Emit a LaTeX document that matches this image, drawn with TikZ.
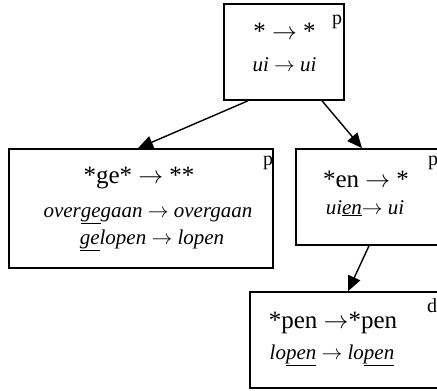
\documentclass[tikz,border=0pt]{standalone}
\usepackage{fontspec}
\setmainfont{Liberation Serif}
\usetikzlibrary{arrows.meta}
\begin{document}
\begin{tikzpicture}[x=1pt,y=-1pt,
    rulebox/.style={draw,line width=1.6pt,inner sep=0pt},
    head/.style={anchor=base,inner sep=0pt,font=\fontsize{25}{25}\selectfont},
    expl/.style={anchor=base,inner sep=0pt,font=\fontsize{21}{21}\selectfont\itshape},
    tag/.style={anchor=base west,inner sep=0pt,font=\fontsize{20}{20}\selectfont},
    link/.style={line width=1.4pt,-{Triangle[length=15pt,width=13pt]}}]
  \useasboundingbox (0,0) rectangle (437,391);
  \clip (0,0) rectangle (437,391);
  % boxes
  \node[rulebox,minimum width=120pt,minimum height=96pt] (top) at (284,52) {};
  \node[rulebox,minimum width=264pt,minimum height=119pt] (ge) at (141,208.5) {};
  \node[rulebox,minimum width=146pt,minimum height=96pt] (en) at (369,197) {};
  \node[rulebox,minimum width=196pt,minimum height=96pt] (pen) at (348,340) {};
  % texts
  \node[head] (topa) at (284.5,39) {* $\rightarrow$ *};
  \node[expl] (topb) at (284.5,71) {ui $\rightarrow$ ui};
  \node[tag] (topt) at (332,24) {p};
  \node[head] (gea) at (139,183) {*ge* $\rightarrow$ **};
  \node[expl] (geb) at (148,217) {over\underline{ge}gaan $\rightarrow$ overgaan};
  \node[expl] (gec) at (152,244) {\underline{ge}lopen $\rightarrow$ lopen};
  \node[tag] (get) at (263,165) {p};
  \node[head] (ena) at (366,187) {*en $\rightarrow$ *};
  \node[expl] (enb) at (365,214) {ui\underline{en}$\rightarrow$ ui};
  \node[tag] (ent) at (428,165) {p};
  \node[head] (pena) at (333,328) {*pen $\rightarrow$*pen};
  \node[expl] (penb) at (332,359) {lo\underline{pen} $\rightarrow$ lo\underline{pen}};
  \node[tag] (pent) at (427,312) {d};
  % arrows
  \draw[link] ([xshift=-36pt]top.south) -- ([xshift=-3pt]ge.north);
  \draw[link] ([xshift=38pt]top.south) -- ([xshift=-7pt]en.north);
  \draw[link] (en.south) -- (pen.north);
\end{tikzpicture}
\end{document}
